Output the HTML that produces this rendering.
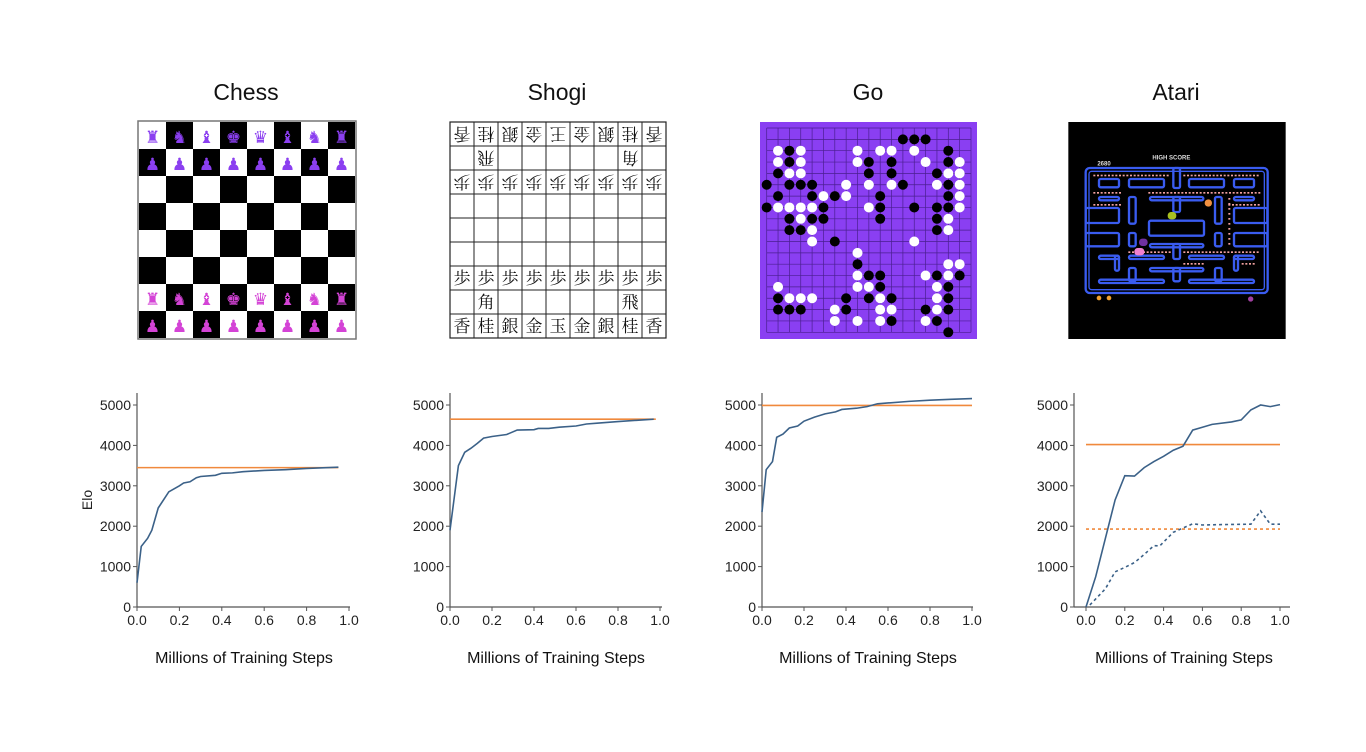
<!DOCTYPE html>
<html><head><meta charset="utf-8">
<style>
html,body{margin:0;padding:0;background:#fff;}
body{width:1366px;height:747px;position:relative;overflow:hidden;font-family:"Liberation Sans",sans-serif;}
svg text{font-family:"Liberation Sans",sans-serif;}
</style></head>
<body>
<svg id="main" width="1366" height="747" viewBox="0 0 1366 747" xmlns="http://www.w3.org/2000/svg">
  <g font-size="23" fill="#111" text-anchor="middle">
    <text x="246" y="100">Chess</text>
    <text x="557" y="100">Shogi</text>
    <text x="868" y="100">Go</text>
    <text x="1176" y="100">Atari</text>
  </g>
  <g id="chess"></g>
  <g id="shogi"></g>
  <g id="go"></g>
  <svg id="atari" x="1065" y="118" width="225" height="225" viewBox="0 0 675 675">
    <rect x="10" y="12" width="652" height="651" fill="#000"/>
    <text x="262" y="125" fill="#ddd" font-size="18" font-family="Liberation Mono" font-weight="bold">HIGH SCORE</text>
    <text x="97" y="142" fill="#ddd" font-size="18" font-family="Liberation Mono" font-weight="bold">2680</text>
    <g id="maze" fill="none" stroke="#3a5cf0" stroke-width="7"></g>
    <g id="dots" fill="#f0a0a0"></g>
    <circle cx="430" cy="255" r="11" fill="#f09040"/>
    <rect x="308" y="282" width="26" height="22" rx="10" fill="#a8c020"/>
    <rect x="222" y="362" width="26" height="22" rx="10" fill="#7030a0"/>
    <rect x="208" y="390" width="30" height="22" rx="10" fill="#f080d0"/>
    <circle cx="102" cy="540" r="7" fill="#f0a030"/>
    <circle cx="132" cy="540" r="7" fill="#f0a030"/>
    <circle cx="557" cy="543" r="8" fill="#a040a0"/>
  </svg>
  <g id="charts"></g>
</svg>
<script>
// ---------- chart data ----------
const yTicks = [0,1000,2000,3000,4000,5000];
const xTicks = [0,0.2,0.4,0.6,0.8,1.0];
const xTickLabels = ["0.0","0.2","0.4","0.6","0.8","1.0"];
const chessX = [0,0.02,0.05,0.07,0.1,0.15,0.2,0.22,0.25,0.28,0.3,0.37,0.4,0.45,0.5,0.6,0.7,0.8,0.95];
const chessY = [600,1500,1700,1900,2450,2850,3000,3070,3100,3200,3230,3260,3310,3320,3350,3380,3400,3430,3460];
const chessRef = 3450;
const shogiX = [0,0.02,0.04,0.07,0.1,0.13,0.16,0.2,0.27,0.32,0.4,0.42,0.47,0.52,0.6,0.65,0.7,0.8,0.97];
const shogiY = [1900,2700,3500,3830,3930,4050,4180,4220,4270,4380,4390,4420,4420,4450,4480,4530,4550,4590,4650];
const shogiRef = 4650;
const goX = [0,0.02,0.05,0.07,0.1,0.13,0.17,0.2,0.25,0.3,0.35,0.38,0.45,0.5,0.55,0.6,0.7,0.8,0.9,1.0];
const goY = [2350,3400,3600,4200,4280,4430,4480,4600,4700,4780,4830,4890,4920,4960,5030,5050,5090,5120,5140,5160];
const goRef = 4990;
const atariX = [0,0.05,0.1,0.15,0.2,0.25,0.3,0.35,0.4,0.45,0.5,0.55,0.6,0.65,0.75,0.8,0.85,0.9,0.95,1.0];
const atariY = [0,750,1700,2650,3250,3240,3450,3600,3730,3880,3980,4380,4450,4520,4580,4630,4880,5000,4960,5010];
const atariRef = 4020;
const atari2X = [0.02,0.05,0.1,0.15,0.2,0.25,0.3,0.35,0.38,0.45,0.55,0.6,0.7,0.85,0.9,0.95,1.0];
const atari2Y = [50,200,450,870,980,1100,1300,1520,1510,1850,2060,2030,2040,2050,2380,2050,2050];
const atari2Ref = 1930;

const NS="http://www.w3.org/2000/svg";
function mk(tag,attrs,parent){const e=document.createElementNS(NS,tag);for(const k in attrs)e.setAttribute(k,attrs[k]);if(parent)parent.appendChild(e);return e;}

const BLUE="#3b6188", ORANGE="#f0893c";
function chart(name,x0,x1,axisL,axisR,series,refs,showElo){
  const g=mk('g',{},document.getElementById('charts'));
  
  
  const sx=v=>x0+(x1-x0)*v;
  const sy=v=>607-v/5000*202;
  mk('line',{x1:axisL,y1:393,x2:axisL,y2:607,stroke:'#555','stroke-width':1.2},g);
  mk('line',{x1:axisL,y1:607,x2:axisR,y2:607,stroke:'#555','stroke-width':1.2},g);
  yTicks.forEach(t=>{
    mk('line',{x1:axisL-4,y1:sy(t),x2:axisL,y2:sy(t),stroke:'#555'},g);
    const tx=mk('text',{x:axisL-6,y:sy(t)+5,'font-size':14,'text-anchor':'end',fill:'#222'},g);
    tx.textContent=t;
    
    
  });
  xTicks.forEach((t,i)=>{
    mk('line',{x1:sx(t),y1:607,x2:sx(t),y2:611,stroke:'#555'},g);
    const tx=mk('text',{x:sx(t),y:625,'font-size':14,'text-anchor':'middle',fill:'#222'},g);
    tx.textContent=xTickLabels[i];
    
    
  });
  refs.forEach(r=>{
    const l=mk('line',{x1:sx(r.a),y1:sy(r.v),x2:sx(r.b),y2:sy(r.v),stroke:ORANGE,'stroke-width':1.6},g);
    if(r.dash) l.setAttribute('stroke-dasharray','3,3');
    
    
  });
  series.forEach(s=>{
    const p=mk('polyline',{points:s.x.map((v,i)=>sx(v)+','+sy(s.y[i])).join(' '),fill:'none',stroke:BLUE,'stroke-width':1.6},g);
    if(s.dash) p.setAttribute('stroke-dasharray','3,3');
    
    
  });
  const xl=mk('text',{x:(x0+x1)/2+1,y:663,'font-size':16,'text-anchor':'middle',fill:'#111'},g);
  xl.textContent="Millions of Training Steps";
  
  
  if(showElo){
    const el=mk('text',{x:92,y:500,'font-size':14,'text-anchor':'middle',fill:'#222',transform:'rotate(-90 92 500)'},g);
    el.textContent="Elo";
    
    
  }
}
chart('chess-chart',137,349,137,350,[{x:chessX,y:chessY}],[{v:chessRef,a:0,b:0.95}],true);
chart('shogi-chart',450,660,450,662,[{x:shogiX,y:shogiY}],[{v:shogiRef,a:0,b:0.98}],false);
chart('go-chart',762,972,762,973,[{x:goX,y:goY}],[{v:goRef,a:0,b:1}],false);
chart('atari-chart',1086,1280,1074,1290,[{x:atariX,y:atariY},{x:atari2X,y:atari2Y,dash:true}],[{v:atariRef,a:0,b:1},{v:atari2Ref,a:0,b:1,dash:true}],false);

// ---------- chess board ----------
(function(){
  const g=document.getElementById('chess');
  const X=139,Y=122,S=27;
  mk('rect',{x:X-1,y:Y-1,width:8*S+2,height:8*S+2,fill:'none',stroke:'#777','stroke-width':1.5},g);
  const back=['♜','♞','♝','♚','♛','♝','♞','♜'];
  for(let r=0;r<8;r++)for(let c=0;c<8;c++){
    mk('rect',{x:X+c*S,y:Y+r*S,width:S,height:S,fill:(r+c)%2?'#000':'#fff'},g);
    let ch=null,col=null;
    if(r===0){ch=back[c];col='#8b3ff0';}
    if(r===1){ch='♟';col='#8b3ff0';}
    if(r===6){ch=back[c];col='#d443d6';}
    if(r===7){ch='♟';col='#d443d6';}
    if(ch){const t=mk('text',{x:X+c*S+S/2,y:Y+r*S+21,'font-size':r%7===0&&r!==7&&r!==0?16:17,'text-anchor':'middle',fill:col,style:'font-family:"DejaVu Sans",sans-serif'},g);t.textContent=ch;
      
      }
  }
})();

// ---------- shogi board ----------
(function(){
  const g=document.getElementById('shogi');
  const X=450,Y=122,S=24;
  mk('rect',{x:X,y:Y,width:9*S,height:9*S,fill:'#fff',stroke:'#222','stroke-width':1.2},g);
  for(let i=1;i<9;i++){
    mk('line',{x1:X+i*S,y1:Y,x2:X+i*S,y2:Y+9*S,stroke:'#222','stroke-width':1},g);
    mk('line',{x1:X,y1:Y+i*S,x2:X+9*S,y2:Y+i*S,stroke:'#222','stroke-width':1},g);
  }
  const top=['香','桂','銀','金','王','金','銀','桂','香'];
  const bot=['香','桂','銀','金','玉','金','銀','桂','香'];
  const put=(r,c,ch,flip)=>{
    const cx=X+c*S+S/2, cy=Y+r*S+S/2;
    const t=mk('text',{x:cx,y:cy+6,'font-size':17,'text-anchor':'middle',fill:'#111',style:'font-family:"Liberation Serif","Noto Serif CJK SC",serif'},g);
    if(flip) t.setAttribute('transform',`rotate(180 ${cx} ${cy})`);
    t.textContent=ch;
    
    
  };
  for(let c=0;c<9;c++){put(0,c,top[c],true);put(2,c,'歩',true);put(6,c,'歩',false);put(8,c,bot[c],false);}
  put(1,1,'飛',true);put(1,7,'角',true);put(7,1,'角',false);put(7,7,'飛',false);
})();

// ---------- go board ----------
(function(){
  const g=document.getElementById('go');
  mk('rect',{x:760,y:122,width:217,height:217,fill:'#8a3ff2'},g);
  const X=766.7,Y=128,S=11.35;
  for(let i=0;i<19;i++){
    mk('line',{x1:X+i*S,y1:Y,x2:X+i*S,y2:Y+18*S,stroke:'#4a1f90','stroke-width':0.7},g);
    mk('line',{x1:X,y1:Y+i*S,x2:X+18*S,y2:Y+i*S,stroke:'#4a1f90','stroke-width':0.7},g);
  }
  const B=[[1,12],[1,13],[1,14],[2,2],[2,16],[3,2],[3,9],[3,11],[3,16],[4,1],[4,9],[4,11],[4,15],[5,0],[5,2],[5,3],[5,4],[5,12],[5,16],[6,1],[6,4],[6,6],[6,10],[6,16],[7,0],[7,5],[7,10],[7,13],[7,15],[7,16],[8,2],[8,4],[8,5],[8,10],[8,15],[9,2],[9,3],[9,15],[10,6],[12,8],[13,9],[13,10],[13,15],[13,17],[14,10],[14,16],[15,1],[15,7],[15,9],[15,11],[15,16],[16,1],[16,2],[16,3],[16,7],[16,14],[16,16],[17,11],[17,15],[18,16]];
  const W=[[2,1],[2,3],[2,8],[2,10],[2,11],[2,13],[3,1],[3,3],[3,8],[3,14],[3,17],[4,2],[4,3],[4,16],[4,17],[5,7],[5,9],[5,11],[5,15],[5,17],[6,5],[6,7],[6,17],[7,1],[7,2],[7,3],[7,4],[7,9],[7,17],[8,3],[8,16],[9,4],[9,16],[10,4],[10,13],[11,8],[12,16],[12,17],[13,8],[13,14],[13,16],[14,1],[14,8],[14,9],[14,15],[15,2],[15,3],[15,4],[15,10],[15,15],[16,6],[16,10],[16,11],[16,15],[17,6],[17,8],[17,10],[17,14]];
  B.forEach(([r,c])=>mk('circle',{cx:X+c*S,cy:Y+r*S,r:5,fill:'#000'},g));
  W.forEach(([r,c])=>mk('circle',{cx:X+c*S,cy:Y+r*S,r:5,fill:'#fff'},g));
})();

// ---------- atari maze ----------
(function(){
  const g=document.getElementById('maze');
  mk('rect',{x:62,y:150,width:546,height:375,rx:12},g);
  mk('rect',{x:72,y:160,width:526,height:355,rx:8,'stroke-width':4},g);
  const R=[[102,183,60,25],[192,183,105,25],[372,183,105,25],[507,183,60,25],[325,150,20,60],
  [102,237,60,10],[192,237,20,80],[255,237,160,10],[325,237,20,45],[450,237,20,80],[507,237,60,10],
  [62,270,100,45],[507,270,100,45],[252,308,165,45],[62,345,100,40],[507,345,100,40],[192,345,20,40],[450,345,20,40],
  [255,378,160,10],[325,378,20,45],[102,413,60,10],[150,413,12,45],[192,413,105,10],[372,413,105,10],[507,413,60,10],[507,413,12,45],
  [192,450,20,40],[255,450,160,10],[325,450,20,40],[450,450,20,40],[102,485,195,10],[372,485,195,10]];
  R.forEach(a=>mk('rect',{x:a[0],y:a[1],width:a[2],height:a[3],rx:5},g));
  const d=document.getElementById('dots');
  const rows=[[85,170,315],[355,170,585],[85,222,165],[250,222,585],[85,258,165],[490,258,585],[190,400,315],[355,400,585],[355,435,420],[530,435,570]];
  rows.forEach(([a,y,b])=>{for(let x=a;x<=b;x+=11)mk('rect',{x:x,y:y,width:6,height:5},d);});
  for(let y=240;y<=385;y+=15)mk('rect',{x:490,y:y,width:6,height:5},d);
})();
</script>
</body></html>
